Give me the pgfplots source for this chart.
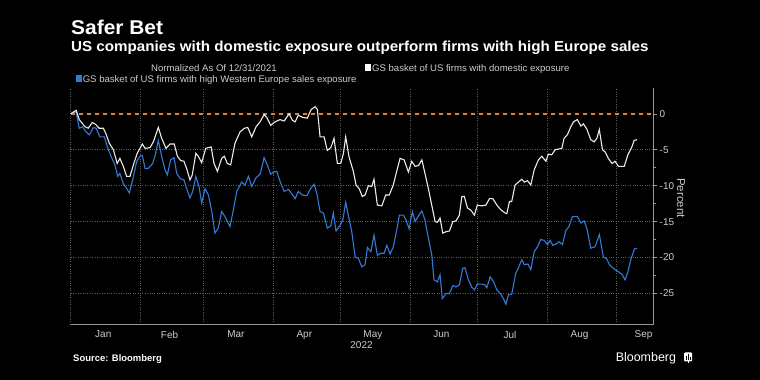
\documentclass[border=0pt]{standalone}
\usepackage{pgfplots}
\pgfplotsset{compat=1.18}
\usepackage{fontspec}
\setmainfont{Liberation Sans}
\newfontfamily\widefont[FakeStretch=1.05]{Liberation Sans}
\definecolor{wline}{RGB}{236,236,236}
\definecolor{bline}{RGB}{52,122,214}
\definecolor{zline}{RGB}{220,130,65}
\definecolor{gridc}{RGB}{95,95,95}
\definecolor{axc}{RGB}{150,150,150}
\definecolor{txt}{RGB}{205,205,205}
\begin{document}
\begin{tikzpicture}
\useasboundingbox (0,0) rectangle (760bp,380bp);
\fill[black] (0,0) rectangle (760bp,380bp);
\begin{axis}[
  at={(70.7bp,56bp)}, anchor=south west,
  scale only axis, width=583bp, height=236bp,
  xmin=0, xmax=259.5, ymin=-29.25, ymax=3.6,
  axis x line*=bottom, axis y line*=right,
  axis line style={draw=axc, line width=0.8bp, -},
  xtick={0,31,59,90,120,151,181,212,243}, xticklabels={},
  extra x ticks={14.5,44,73.5,104,134.5,165,195.5,226.5,255},
  extra x tick labels={Jan,Feb,Mar,Apr,May,Jun,Jul,Aug,Sep},
  extra x tick style={grid=none},
  x tick style={draw=none},
  ytick={-25,-20,-15,-10,-5},
  yticklabels={-25,-20,-15,-10,-5},
  extra y ticks={0}, extra y tick labels={0},
  extra y tick style={grid=none},
  minor y tick num=1,
  tick align=outside,
  major tick length=3.5bp, minor tick length=2bp,
  y tick style={draw=axc, line width=0.6bp},
  grid=major,
  major grid style={draw=gridc, dotted, line width=0.6bp},
  ticklabel style={font=\fontsize{10}{12}\selectfont, text=txt},
  yticklabel style={anchor=west, xshift=-1bp},
  clip=false,
]
\addplot[draw=zline, line width=1.3bp, dash pattern=on 4.5bp off 3.5bp] coordinates {(0,0) (259.5,0)};
\addplot[draw=bline, line width=1.1bp] coordinates {
(0,0) (2.4,0.3) (3.8,-2.0) (5.3,-1.8) (6.8,-2.5) (8.3,-2.9) (10.1,-1.9) (11.3,-2.0) (13.0,-3.2) (15.0,-3.2)
(16.3,-4.6) (17.8,-5.8) (19.7,-7.1) (20.9,-8.7) (21.9,-8.3) (23.4,-9.7) (24.9,-10.4) (26.1,-11.0) (27.6,-9.2) (29.4,-6.6)
(30.9,-5.9) (31.9,-5.8) (33.1,-7.6) (34.5,-7.6) (36.5,-6.9) (37.5,-5.9) (39.0,-3.7) (40.5,-5.9) (42.0,-7.8) (43.0,-8.5)
(44.5,-6.4) (46.0,-6.1) (47.2,-8.3) (48.7,-9.0) (50.4,-9.2) (51.6,-10.4) (53.1,-11.7) (54.3,-10.8) (55.7,-8.7) (57.1,-10.1)
(58.3,-12.4) (59.8,-10.4) (61.3,-11.3) (62.8,-13.6) (64.2,-16.6) (65.7,-15.9) (67.2,-13.6) (68.7,-14.3) (70.9,-15.7) (72.4,-13.4)
(73.9,-10.8) (76.1,-9.5) (77.6,-9.9) (79.1,-8.7) (80.6,-10.1) (82.5,-8.9) (84.3,-8.4) (86.1,-6.1) (87.5,-7.1) (89.0,-8.4)
(90.2,-8.1) (91.7,-8.0) (93.2,-9.4) (95.0,-10.8) (96.9,-10.5) (98.8,-11.3) (99.9,-11.8) (101.3,-10.8) (103.1,-11.3) (105.1,-11.4)
(106.8,-10.4) (108.3,-9.8) (109.5,-11.0) (111.0,-13.6) (112.5,-13.8) (113.5,-15.0) (114.2,-15.9) (115.8,-15.6) (116.9,-13.8) (118.1,-16.3)
(119.9,-15.5) (121.1,-14.8) (122.4,-12.3) (124.0,-14.8) (125.1,-16.4) (126.6,-19.9) (128.0,-20.1) (129.6,-21.3) (131.0,-21.0) (132.1,-18.6)
(133.6,-19.2) (135.0,-16.9) (136.5,-19.7) (138.0,-19.4) (139.5,-19.4) (140.7,-18.3) (142.2,-19.5) (143.6,-18.5) (145.1,-16.2) (146.3,-14.1)
(148.1,-14.1) (149.3,-14.8) (150.6,-16.0) (152.1,-13.6) (153.3,-15.0) (154.8,-14.2) (156.3,-13.5) (157.7,-14.8) (159.2,-17.3) (160.7,-19.6)
(161.7,-23.1) (163.2,-23.4) (164.4,-22.4) (165.4,-25.7) (167.1,-25.0) (168.6,-25.0) (170.1,-23.9) (171.5,-24.1) (173.0,-23.8) (174.5,-21.5)
(175.5,-21.4) (177.0,-23.1) (178.5,-24.1) (179.7,-24.5) (181.0,-23.7) (183.0,-23.7) (184.4,-23.8) (185.2,-24.2) (186.7,-22.7) (188.1,-23.3)
(189.7,-24.5) (191.4,-25.1) (192.6,-25.7) (193.7,-26.5) (194.8,-25.2) (196.3,-25.1) (198.1,-22.2) (199.3,-21.4) (200.8,-20.3) (201.9,-21.0)
(203.5,-20.9) (204.8,-21.7) (206.3,-19.2) (207.8,-18.5) (209.2,-17.5) (210.7,-17.6) (212.2,-18.2) (213.4,-17.6) (214.6,-18.3) (216.1,-18.1)
(217.4,-17.8) (218.9,-18.2) (220.4,-16.2) (221.8,-15.7) (223.3,-14.3) (225.5,-14.3) (227.1,-15.2) (228.5,-14.9) (229.7,-15.9) (231.5,-18.7)
(233.4,-18.5) (235.3,-16.8) (237.1,-19.9) (238.6,-20.2) (239.8,-21.0) (241.6,-21.5) (243.8,-22.0) (245.3,-22.3) (246.8,-23.1) (248.0,-22.0)
(249.3,-20.3) (250.9,-18.8) (252.0,-18.7)
};
\addplot[draw=wline, line width=1.1bp] coordinates {
(0,0) (2.4,0.5) (3.8,-0.8) (6.4,-1.8) (7.8,-2.0) (9.6,-1.2) (10.8,-1.4) (12.7,-2.0) (14.5,-2.0) (15.6,-2.7)
(17.2,-4.1) (19.0,-5.0) (20.7,-6.9) (21.9,-6.2) (23.4,-7.3) (24.9,-8.7) (26.4,-8.7) (27.9,-7.1) (29.6,-5.5) (31.9,-4.2)
(33.1,-4.8) (35.3,-4.7) (36.8,-3.9) (39.0,-1.9) (40.5,-3.4) (42.4,-4.8) (44.2,-4.2) (46.1,-4.2) (47.5,-5.9) (49.0,-6.5)
(50.4,-6.6) (51.6,-7.6) (53.1,-9.2) (54.1,-8.5) (55.7,-5.5) (56.8,-5.9) (58.3,-6.8) (60.1,-4.8) (62.5,-4.6) (63.8,-6.9)
(65.3,-8.0) (67.2,-6.2) (68.4,-5.9) (69.7,-6.9) (71.2,-7.1) (73.1,-4.1) (75.4,-2.5) (77.3,-2.0) (78.8,-1.9) (80.6,-3.2)
(82.5,-1.8) (84.3,-1.1) (86.1,-0.1) (87.3,-0.5) (89.0,-1.6) (91.0,-1.1) (93.2,-0.8) (95.0,-1.0) (97.2,0.0) (98.7,-0.9)
(99.9,-1.1) (101.3,-0.2) (103.3,-0.5) (105.3,-0.6) (107.0,0.6) (108.8,1.0) (109.8,0.6) (111.0,-3.2) (112.8,-3.2) (114.2,-5.1)
(115.8,-4.7) (117.2,-3.4) (118.7,-6.9) (120.2,-6.9) (121.4,-5.5) (122.4,-3.2) (123.9,-6.0) (125.8,-8.0) (127.0,-9.9) (128.4,-10.4)
(129.8,-11.5) (131.0,-11.3) (132.5,-10.0) (134.0,-10.1) (135.0,-9.1) (136.5,-12.7) (138.5,-12.8) (140.2,-11.3) (141.8,-11.3) (143.6,-9.9)
(145.1,-8.0) (146.6,-6.2) (148.4,-6.4) (150.3,-8.1) (151.8,-6.6) (153.3,-7.3) (154.8,-7.2) (156.3,-6.4) (157.7,-8.3) (159.2,-10.4)
(160.7,-12.7) (162.2,-15.0) (163.2,-15.1) (164.4,-14.5) (165.6,-16.6) (167.1,-16.4) (168.6,-16.3) (170.1,-15.0) (171.5,-14.9) (173.0,-14.1)
(174.1,-11.5) (175.2,-11.5) (176.6,-13.1) (178.1,-13.4) (179.7,-14.1) (181.0,-12.7) (183.0,-12.8) (184.8,-12.7) (186.4,-11.8) (187.9,-11.8)
(189.7,-12.7) (191.6,-13.4) (193.4,-13.8) (194.1,-13.9) (195.3,-12.2) (196.3,-12.2) (197.8,-9.9) (199.3,-9.5) (200.8,-9.1) (201.9,-9.5)
(203.3,-9.3) (204.8,-9.9) (206.3,-7.8) (208.2,-6.4) (209.7,-5.9) (211.5,-6.6) (212.6,-5.6) (214.1,-5.7) (215.6,-5.0) (217.1,-4.9)
(218.6,-4.8) (219.6,-3.4) (221.1,-2.9) (222.6,-1.8) (223.8,-1.1) (225.5,-0.8) (227.1,-1.7) (228.2,-1.4) (229.7,-2.1) (231.5,-3.6)
(233.0,-3.9) (234.2,-3.4) (235.3,-2.2) (236.7,-5.0) (237.9,-5.3) (239.3,-6.2) (240.9,-6.9) (242.3,-6.6) (243.8,-7.3) (246.4,-7.3)
(248.0,-5.7) (249.8,-4.6) (250.8,-3.7) (252.0,-3.6)
};
\end{axis}
% titles
\node[anchor=base west, inner sep=0, text=white, font=\fontsize{20}{23}\widefont\bfseries] at (71bp,345bp) {Safer Bet};
\node[anchor=base west, inner sep=0, text=white, font=\fontsize{14.5}{17}\widefont\bfseries] at (71bp,328.3bp) {US companies with domestic exposure outperform firms with high Europe sales};
% legend
\node[anchor=base west, inner sep=0, text=txt, font=\fontsize{9.6}{11}\selectfont] at (151bp,308.5bp) {Normalized As Of 12/31/2021};
\fill[white] (365bp,308.5bp) rectangle (371bp,315.5bp);
\node[anchor=base west, inner sep=0, text=txt, font=\fontsize{9.6}{11}\selectfont] at (372bp,308.5bp) {GS basket of US firms with domestic exposure};
\fill[bline] (75.6bp,297.5bp) rectangle (81.6bp,304.5bp);
\node[anchor=base west, inner sep=0, text=txt, font=\fontsize{9.6}{11}\selectfont] at (82.6bp,297.5bp) {GS basket of US firms with high Western Europe sales exposure};
% axis extras
\node[anchor=base, inner sep=0, text=txt, font=\fontsize{10}{12}\selectfont] at (361.5bp,32bp) {2022};
\node[rotate=-90, inner sep=0, text=txt, font=\fontsize{11.5}{13}\selectfont] at (681bp,182bp) {Percent};
% footer
\node[anchor=base west, inner sep=0, text=white, font=\fontsize{9.5}{11}\selectfont\bfseries] at (73bp,18.5bp) {Source: Bloomberg};
\node[anchor=base west, inner sep=0, text=white, font=\fontsize{12.5}{14}\selectfont] at (615.6bp,18.5bp) {Bloomberg};
\fill[white, rounded corners=1bp] (684bp,18.5bp) rectangle (692bp,27.5bp);
\draw[black, line width=0.7bp] (686bp,20bp) -- (686bp,24bp) (688bp,20bp) -- (688bp,26bp) (690bp,20bp) -- (690bp,23bp);
\draw[white, line width=0.8bp] (688bp,18.5bp) -- (688bp,16.5bp);
\end{tikzpicture}
\end{document}
